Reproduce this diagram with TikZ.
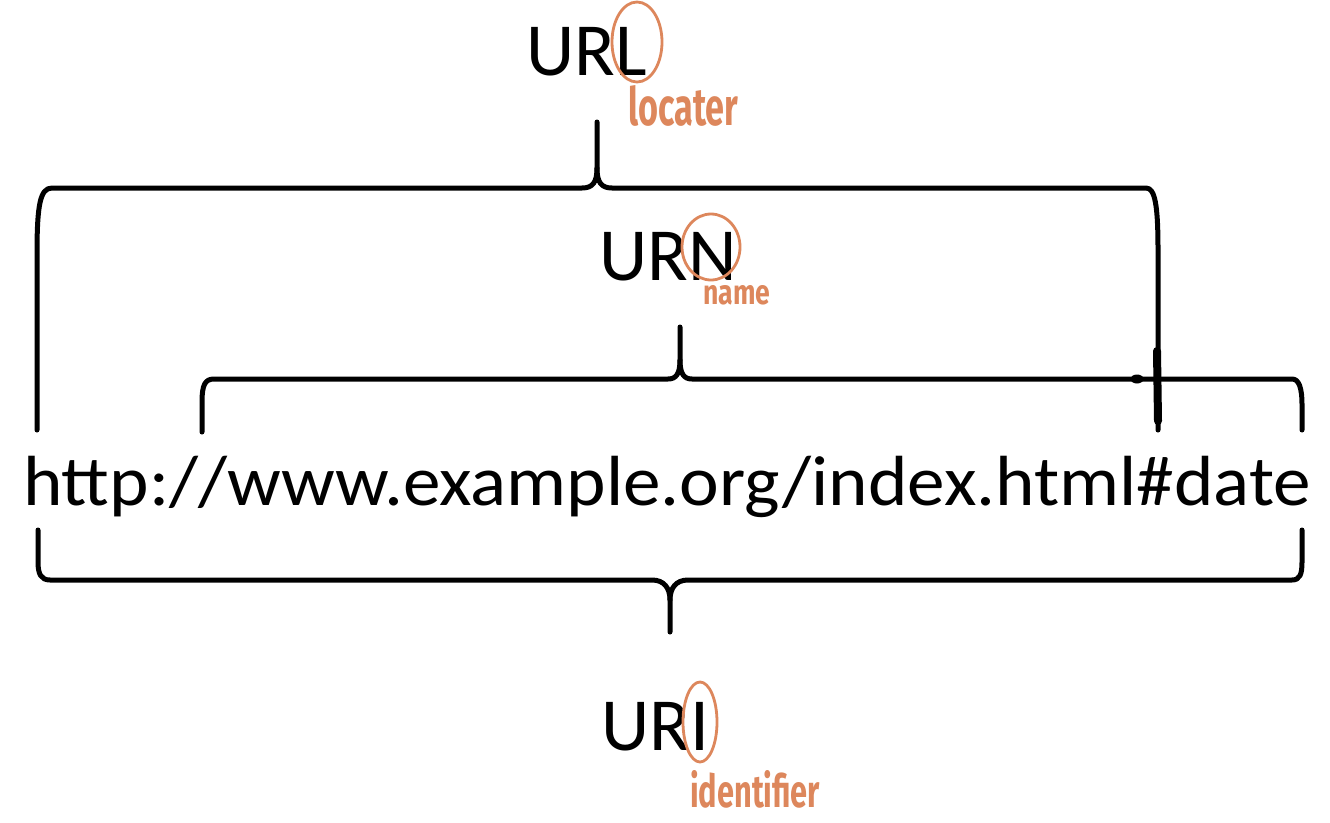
\documentclass[tikz,border=0pt]{standalone}
\usepackage{fontspec}
\setmainfont{Carlito}
\newfontfamily\handfont{Fira Sans}
\usetikzlibrary{shapes.geometric}
\definecolor{hand}{RGB}{221,135,92}
\tikzset{
  brace/.style={line width=5pt, line join=round, line cap=round},
  lbl/.style={inner sep=0pt, anchor=base west},
  note/.style={inner sep=0pt, anchor=base west, text=hand},
  ring/.style={draw=hand, line width=2.8pt, ellipse, inner sep=0pt},
}
\begin{document}
\begin{tikzpicture}[x=1pt,y=-1pt]
\useasboundingbox (0,0) rectangle (1330,822);
\fill[white] (0,0) rectangle (1330,822);

% labels
\node[lbl] (url) at (526,75) {\fontsize{75}{80}\selectfont URL};
\node[lbl] (urn) at (599,280) {\fontsize{75}{80}\selectfont URN};
\node[lbl] (uri) at (601,750) {\fontsize{75}{80}\selectfont URI};
\node[lbl] (addr) at (23,505) {\resizebox{1288pt}{\height}{\fontsize{71}{80}\selectfont http://www.example.org/index.html\#date}};

% handwritten notes
\node[ring, minimum width=50pt, minimum height=80pt] (ringL) at (637,42) {};
\node[ring, minimum width=58pt, minimum height=66pt] (ringN) at (711,247) {};
\node[ring, minimum width=34pt, minimum height=80pt] (ringI) at (700,722) {};
\node[note] (locater) at (628,125) {\resizebox{110pt}{40pt}{\handfont\bfseries locater}};
\node[note] (name) at (703,304) {\resizebox{67pt}{19pt}{\handfont\bfseries name}};
\node[note] (identifier) at (690,807) {\resizebox{130pt}{37pt}{\handfont\bfseries identifier}};

% URL brace
\coordinate (tipL) at (597,122);
\draw[brace] (37,430) -- (37,255) .. controls (37,205) and (40,188) .. (52,188) -- (582,188) .. controls (593,188) and (597,182) .. (597,168) -- (tipL);
\draw[brace] (597,168) .. controls (597,182) and (601,188) .. (612,188) -- (1146,188) .. controls (1155,188) and (1158,205) .. (1158,250) -- (1158,430);

% URN brace
\coordinate (tipN) at (680,327);
\draw[brace] (202,432) -- (202,402) .. controls (202,385) and (205,379) .. (214,379) -- (668,379) .. controls (676,379) and (680,374) .. (680,360) -- (tipN);
\draw[brace] (680,360) .. controls (680,374) and (684,379) .. (692,379) -- (1292,379) .. controls (1299,379) and (1302,388) .. (1302,405) -- (1302,430);

% URI brace
\coordinate (tipI) at (670,632);
\draw[brace] (38,530) -- (38,562) .. controls (38,574) and (41,580) .. (50,580) -- (652,580) .. controls (664,580) and (670,588) .. (670,600) -- (tipI);
\draw[brace] (670,600) .. controls (670,588) and (676,580) .. (688,580) -- (1292,580) .. controls (1300,580) and (1302,574) .. (1302,562) -- (1302,530);

% hand-drawn marks
\draw[line width=8pt, line cap=round] (1157,351) -- (1158,421);
\node[fill=black, ellipse, minimum width=13pt, minimum height=9pt, inner sep=0pt] (dot) at (1137,379) {};
\end{tikzpicture}
\end{document}
